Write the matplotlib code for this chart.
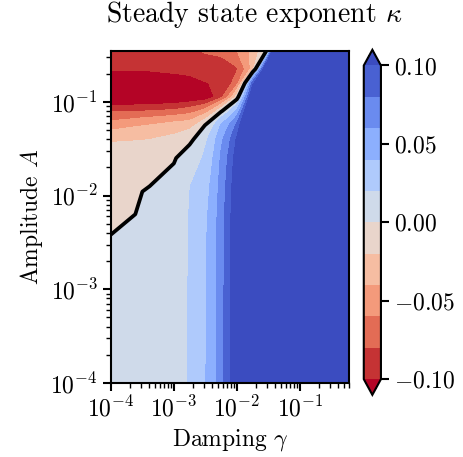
import numpy as np
import matplotlib
matplotlib.use('Agg')
import matplotlib.pyplot as plt
from matplotlib.ticker import FuncFormatter

plt.rcParams.update({
    'font.family': 'serif',
    'font.serif': ['cmr10', 'DejaVu Serif'],
    'mathtext.fontset': 'cm',
    'axes.formatter.use_mathtext': True,
    'font.size': 17,
    'axes.linewidth': 1.5,
})

# grid (log10 of damping and amplitude)
log_gamma = [-4.0, -3.5, -3.0, -2.75, -2.5, -2.25, -2.0, -1.75, -1.5, -1.25, -0.9, -0.2]
log_amp = [-4.0, -3.0, -2.5, -2.2, -1.9, -1.6, -1.4, -1.25, -1.1, -0.95, -0.8, -0.65, -0.45]

# steady state exponent, one list per damping value (bottom -> top in amplitude)
k_g0 = [0.005, 0.004, 0.0008, -0.003, -0.009, -0.016, -0.021, -0.052, -0.081, -0.13, -0.125, -0.095, -0.088]
k_g1 = [0.006, 0.005, 0.003, 0.0015, -0.0005, -0.008, -0.021, -0.041, -0.08, -0.13, -0.125, -0.097, -0.088]
k_g2 = [0.012, 0.011, 0.009, 0.006, 0.003, -0.001, -0.015, -0.031, -0.075, -0.125, -0.115, -0.092, -0.086]
k_g3 = [0.022, 0.0215, 0.0212, 0.021, 0.0195, 0.008, -0.004, -0.028, -0.068, -0.12, -0.11, -0.09, -0.082]
k_g4 = [0.039, 0.0388, 0.038, 0.036, 0.032, 0.024, 0.016, 0.001, -0.05, -0.115, -0.101, -0.088, -0.078]
k_g5 = [0.073, 0.0725, 0.072, 0.071, 0.068, 0.063, 0.056, 0.042, -0.002, -0.085, -0.095, -0.088, -0.075]
k_g6 = [0.125, 0.125, 0.124, 0.123, 0.12, 0.113, 0.103, 0.085, 0.045, -0.01, -0.07, -0.082, -0.06]
k_g7 = [0.2, 0.2, 0.2, 0.2, 0.2, 0.2, 0.19, 0.185, 0.18, 0.14, 0.09, -0.03, -0.033]
k_g8 = [0.3, 0.3, 0.3, 0.3, 0.3, 0.3, 0.3, 0.3, 0.3, 0.28, 0.24, 0.18, 0.005]
k_g9 = [0.5] * 13
k_g10 = [0.8] * 13
k_g11 = [1.0] * 13

kappa = np.array([k_g0, k_g1, k_g2, k_g3, k_g4, k_g5, k_g6, k_g7, k_g8, k_g9, k_g10, k_g11]).T

gamma = 10.0 ** np.array(log_gamma)
amp = 10.0 ** np.array(log_amp)
levels = np.linspace(-0.1, 0.1, 11)

fig = plt.figure(figsize=(4.64, 4.57), dpi=100)
ax = fig.add_axes([0.239, 0.162, 0.513, 0.726])

cf = ax.contourf(gamma, amp, kappa, levels=levels, cmap='coolwarm_r', extend='both')
ax.contour(gamma, amp, kappa, levels=[0], colors='k', linewidths=2.7)

ax.set_xscale('log')
ax.set_yscale('log')
ax.set_xlim(1e-4, 10 ** -0.22)
ax.set_ylim(1e-4, 10 ** -0.46)
ax.tick_params(which='major', length=6, width=1.5)
ax.tick_params(which='minor', length=3.5, width=1.0)

ax.set_xlabel(r'Damping $\gamma$')
ax.set_ylabel(r'Amplitude $A$')
fig.text(0.547, 0.969, r'Steady state exponent $\kappa$', fontsize=20,
         ha='center', va='center')

cax = fig.add_axes([0.784, 0.136, 0.037, 0.755])
cb = fig.colorbar(cf, cax=cax, ticks=[-0.1, -0.05, 0, 0.05, 0.1])
cb.ax.yaxis.set_major_formatter(FuncFormatter(lambda v, p: '$%.2f$' % v))
cb.outline.set_linewidth(1.5)
cb.ax.tick_params(length=6, width=1.5)

fig.savefig('out.png', dpi=100)
